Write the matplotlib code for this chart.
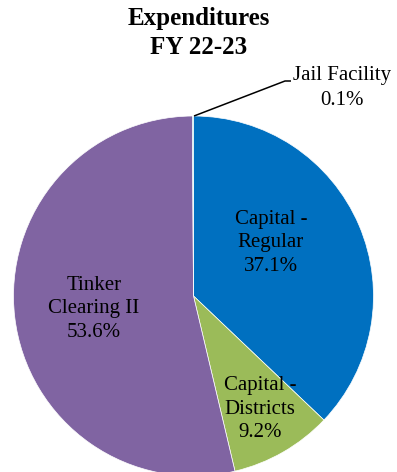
import matplotlib
matplotlib.use("Agg")
import matplotlib.pyplot as plt

plt.rcParams["font.family"] = ["Liberation Serif", "DejaVu Serif"]

# expenditure shares, clockwise from 12 o'clock
categories = ["Capital -\nRegular", "Capital -\nDistricts", "Tinker\nClearing II", "Jail Facility"]
shares = [37.1, 9.2, 53.6, 0.1]
colors = ["#0070C0", "#9BBB59", "#8064A2", "#4BACC6"]

W, H = 397, 472
CX, CY, R = 193.5, 296, 180


def up(y):
    # pixel row (from top) -> data y
    return H - y


fig = plt.figure(figsize=(W / 100, H / 100), dpi=100)
ax = fig.add_axes([0, 0, 1, 1])
ax.pie(shares, colors=colors, startangle=90, counterclock=False,
       center=(CX, up(CY)), radius=R,
       wedgeprops=dict(edgecolor="white", linewidth=0.5))
ax.set_xlim(0, W)
ax.set_ylim(0, H)
ax.set_aspect("equal")
ax.axis("off")

fig.text(0.5, 1 - 33 / H, "Expenditures\nFY 22-23", ha="center", va="center",
         fontsize=18, fontweight="bold", linespacing=1.3)

label_pos = [(271, 243), (260, 409), (94, 309)]
for name, v, (x, y) in zip(categories[:3], shares[:3], label_pos):
    ax.text(x, up(y), f"{name}\n{v:.1f}%", ha="center", va="center",
            fontsize=15, linespacing=1.35)

# small slice gets a leader line
ax.plot([194, 285, 291], [up(116), up(81), up(81)], color="black", lw=1.1,
        solid_capstyle="butt")
ax.text(342, up(88), f"{categories[3]}\n{shares[3]:.1f}%", ha="center",
        va="center", fontsize=15, linespacing=1.4)

fig.savefig("out.png", dpi=100)
